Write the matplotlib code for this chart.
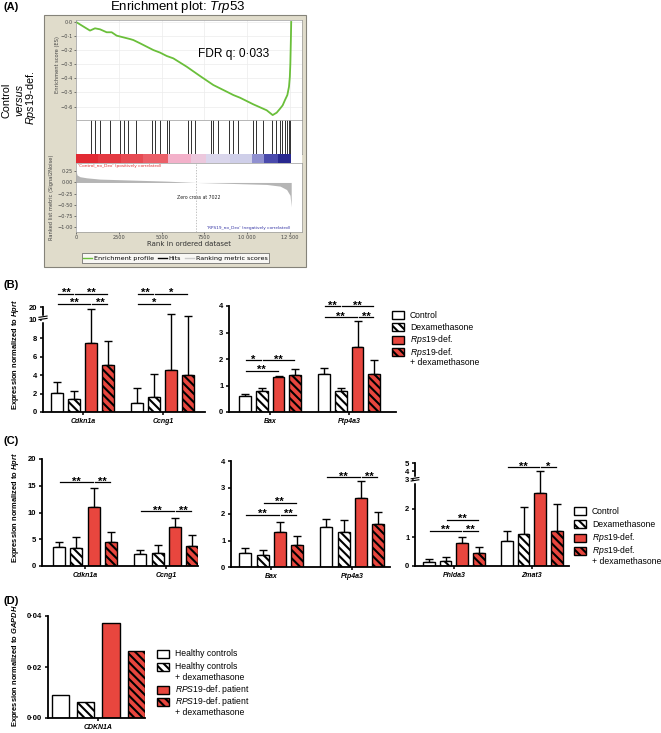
import matplotlib
matplotlib.use('Agg')
import matplotlib.pyplot as plt
import numpy as np
from matplotlib.patches import Rectangle
from matplotlib.lines import Line2D

plt.rcParams['font.family'] = ['Liberation Sans', 'DejaVu Sans']
plt.rcParams['mathtext.fontset'] = 'custom'
plt.rcParams['mathtext.rm'] = 'Liberation Sans'
plt.rcParams['mathtext.it'] = 'Liberation Sans:italic'
plt.rcParams['mathtext.bf'] = 'Liberation Sans:bold'
plt.rcParams['mathtext.bfit'] = 'Liberation Sans:bold:italic'
plt.rcParams['hatch.linewidth'] = 1.5

# ---------------- (A) GSEA enrichment plot ----------------
es_rank = [0, 818, 1110, 1402, 1791, 2083, 2375, 3154, 3349, 3738, 4517, 4906, 5296,
           5685, 6464, 7243, 8022, 8800, 9190, 9579, 10358, 10747, 11137, 11487, 11721,
           11916, 12071, 12208, 12344, 12440, 12490, 12520, 12550, 12570]
es_score = [0.0, -0.061, -0.045, -0.052, -0.073, -0.073, -0.097, -0.121, -0.128, -0.151,
            -0.199, -0.217, -0.241, -0.258, -0.317, -0.383, -0.447, -0.494, -0.518, -0.537,
            -0.584, -0.605, -0.626, -0.660, -0.643, -0.615, -0.591, -0.553, -0.518, -0.459,
            -0.388, -0.293, -0.128, 0.0]
hit_rank = [876, 1081, 1373, 1986, 2599, 2804, 3037, 3505, 4439, 4643, 4906, 5286, 5403,
            6542, 6746, 6951, 7856, 8002, 8265, 8937, 9141, 9433, 10309, 10514, 10923,
            11448, 11682, 11886, 12032, 12178, 12295, 12412, 12520]
metric_rank = [0, 60, 230, 620, 1400, 3350, 5300, 7022, 9190, 11140, 11920, 12300, 12500, 12570]
metric_value = [0.27, 0.17, 0.13, 0.105, 0.076, 0.053, 0.03, 0.0, -0.023, -0.045, -0.083,
                -0.16, -0.29, -0.55]
n_genes = 12570
zero_cross = 7022
es_ticks = [0.0, -0.1, -0.2, -0.3, -0.4, -0.5, -0.6]
es_ticklabels = ['0·0', '−0·1', '−0·2', '−0·3', '−0·4', '−0·5', '−0·6']
metric_ticks = [0.25, 0.0, -0.25, -0.5, -0.75, -1.0]
metric_ticklabels = ['0·25', '0·00', '−0·25', '−0·50', '−0·75', '−1·00']
rank_ticks = [0, 2500, 5000, 7500, 10000, 12500]
rank_ticklabels = ['0', '2500', '5000', '7500', '10 000', '12 500']
# colour blocks of the ranked-list bar (start rank, colour)
heat_start = [0, 1300, 2600, 3900, 5400, 6700, 7600, 9000, 10300, 11000, 11800]
heat_color = ['#e22a33', '#e43a42', '#e74b53', '#eb5f68', '#f3b1ca', '#ecc8dd',
              '#dad6ec', '#cfcfe9', '#9090d0', '#4a4aac', '#28288f']

# ---------------- (B)-(D) qPCR ----------------
conditions = [['Control'], ['Dexamethasone'], [r'$\mathit{Rps19}$-def.'],
              [r'$\mathit{Rps19}$-def.', '+ dexamethasone']]

b1_genes = ['Cdkn1a', 'Ccng1']
b1_mean = [[2.1, 1.45, 7.55, 5.1], [1.0, 1.65, 4.6, 4.0]]
b1_top = [[3.25, 2.25, 18.5, 7.7], [2.6, 4.1, 14.6, 13.1]]
b1_sig = [(0, 0, 1, '**', 1.124), (0, 1, 3, '**', 1.124), (0, 0, 2, '**', 1.029), (0, 2, 3, '**', 1.029),
          (1, 0, 1, '**', 1.124), (1, 1, 3, '*', 1.124), (1, 0, 2, '*', 1.029)]

b2_genes = ['Bax', 'Ptp4a3']
b2_mean = [[0.62, 0.80, 1.33, 1.40], [1.43, 0.80, 2.46, 1.42]]
b2_top = [[0.69, 0.92, 1.37, 1.61], [1.67, 0.89, 3.45, 1.96]]
b2_sig = [(0, 0, 1, '*', 0.49), (0, 1, 3, '**', 0.49), (0, 0, 2, '**', 0.39),
          (1, 0, 1, '**', 1.0), (1, 1, 3, '**', 1.0), (1, 0, 2, '**', 0.896), (1, 2, 3, '**', 0.896)]

c1_genes = ['Cdkn1a', 'Ccng1']
c1_mean = [[3.6, 3.3, 11.1, 4.4], [2.2, 2.5, 7.2, 3.8]]
c1_top = [[4.4, 5.5, 14.5, 6.4], [2.9, 3.9, 9.0, 5.8]]
c1_sig = [(0, 0, 2, '**', 0.785), (0, 2, 3, '**', 0.785), (1, 0, 2, '**', 0.514), (1, 2, 3, '**', 0.514)]

c2_genes = ['Bax', 'Ptp4a3']
c2_mean = [[0.52, 0.47, 1.31, 0.83], [1.50, 1.32, 2.59, 1.61]]
c2_top = [[0.73, 0.64, 1.70, 1.16], [1.82, 1.77, 3.26, 2.09]]
c2_sig = [(0, 1, 3, '**', 0.604), (0, 0, 2, '**', 0.491), (0, 2, 3, '**', 0.491),
          (1, 0, 2, '**', 0.849), (1, 2, 3, '**', 0.849)]

c3_genes = ['Phlda3', 'Zmat3']
c3_mean = [[0.15, 0.17, 0.81, 0.46], [0.86, 1.12, 2.56, 1.22]]
c3_top = [[0.23, 0.30, 1.00, 0.65], [1.22, 2.05, 4.09, 2.16]]
c3_sig = [(0, 1, 3, '**', 0.447), (0, 0, 2, '**', 0.340), (0, 2, 3, '**', 0.340),
          (1, 0, 2, '**', 0.961), (1, 2, 3, '*', 0.961)]

d_gene = 'CDKN1A'
d_labels = [['Healthy controls'], ['Healthy controls', '+ dexamethasone'],
            [r'$\mathit{RPS19}$-def. patient'], [r'$\mathit{RPS19}$-def. patient', '+ dexamethasone']]
d_value = [0.0089, 0.0062, 0.0373, 0.0263]

RED = '#e8463e'
GREEN = '#6abf3a'
BEIGE = '#e0dccb'
HATCH = '\\' * 4
FACES = ['white', 'white', RED, RED]
HATCHES = [None, HATCH, None, HATCH]
GROUP_STEP = 4.7

W, H = 661, 733
fig = plt.figure(figsize=(W / 100, H / 100), dpi=100)


def fx(x):
    return x / W


def fy(y):
    return 1 - y / H


def px_axes(x0, y0, x1, y1):
    return fig.add_axes([fx(x0), fy(y1), (x1 - x0) / W, (y1 - y0) / H])


def broken(lim, k):
    def fwd(y):
        y = np.asarray(y, dtype=float)
        return np.where(y <= lim, y, lim + (y - lim) * k)

    def inv(y):
        y = np.asarray(y, dtype=float)
        return np.where(y <= lim, y, lim + (y - lim) / k)
    return fwd, inv


# ======== panel A ========
fig.add_artist(Rectangle((fx(44), fy(267)), fx(306) - fx(44), fy(15) - fy(267),
                         transform=fig.transFigure, facecolor=BEIGE, edgecolor='#85837a',
                         lw=0.8, zorder=-1))
gsea_font = dict(family='DejaVu Sans')
XMAX = 13200

ax_es = px_axes(76, 20, 302, 120)
ax_es.plot(es_rank, es_score, color=GREEN, lw=1.3)
ax_es.set_xlim(0, XMAX)
ax_es.set_ylim(-0.695, 0.014)
ax_es.set_yticks(es_ticks)
ax_es.set_yticklabels(es_ticklabels, fontsize=3.6, **gsea_font)
ax_es.set_xticks(rank_ticks)
ax_es.tick_params(axis='x', length=0, labelbottom=False)
ax_es.tick_params(axis='y', length=1.5, width=0.5, pad=1, colors='#444444')
ax_es.grid(color='#ececec', lw=0.5)
ax_es.set_axisbelow(True)
fig.text(fx(234), fy(54), 'FDR q: 0·033', fontsize=8.6, ha='center', va='center')

ax_hit = px_axes(76, 120, 302, 154)
ax_hit.vlines(hit_rank, 0, 1, color='#303030', lw=0.7)
ax_hit.set_xlim(0, XMAX)
ax_hit.set_ylim(0, 1)
ax_hit.set_xticks([])
ax_hit.set_yticks([])

ax_cb = px_axes(76, 154, 302, 163)
heat_end = heat_start[1:] + [n_genes]
ax_cb.broken_barh([(s, e - s) for s, e in zip(heat_start, heat_end)], (0, 1),
                  facecolors=heat_color, lw=0)
ax_cb.set_xlim(0, XMAX)
ax_cb.set_ylim(0, 1)
ax_cb.set_xticks([])
ax_cb.set_yticks([])

ax_rk = px_axes(76, 163, 302, 232)
ax_rk.fill_between(metric_rank, metric_value, 0, color='#b5b5b5', lw=0)
ax_rk.axvline(zero_cross, color='#aaaaaa', ls=(0, (2, 2)), lw=0.5)
ax_rk.set_xlim(0, XMAX)
ax_rk.set_ylim(-1.12, 0.44)
ax_rk.set_yticks(metric_ticks)
ax_rk.set_yticklabels(metric_ticklabels, fontsize=3.6, **gsea_font)
ax_rk.set_xticks(rank_ticks)
ax_rk.set_xticklabels(rank_ticklabels, fontsize=3.6, **gsea_font)
ax_rk.tick_params(length=1.5, width=0.5, pad=1, colors='#444444')
ax_rk.text(100, 0.37, "'Control_no_Dex' (positively correlated)", color='#e03030',
           fontsize=3.1, ha='left', va='center', **gsea_font)
ax_rk.text(7155, -0.33, 'Zero cross at 7022', color='#222222', fontsize=3.3,
           ha='center', va='center', **gsea_font)
ax_rk.text(12500, -1.02, "'RPS19_no_Dex' (negatively correlated)", color='#3535a5',
           fontsize=3.1, ha='right', va='center', **gsea_font)

for a in (ax_es, ax_hit, ax_cb, ax_rk):
    for s in a.spines.values():
        s.set_color('#9a9a9a')
        s.set_linewidth(0.5)
for s in ax_cb.spines.values():
    s.set_visible(False)

fig.text(fx(57), fy(65), 'Enrichment score (ES)', rotation=90, ha='center', va='center',
         fontsize=3.7, color='#444444', **gsea_font)
fig.text(fx(52), fy(197), 'Ranked list metric (Signal2Noise)', rotation=90, ha='center',
         va='center', fontsize=3.7, color='#444444', **gsea_font)
fig.text(fx(189), fy(244.5), 'Rank in ordered dataset', ha='center', va='center',
         fontsize=5, color='#333333', **gsea_font)
leg_a = fig.legend([Line2D([], [], color=GREEN, lw=1), Line2D([], [], color='black', lw=1),
                    Line2D([], [], color='#cccccc', lw=1)],
                   ['Enrichment profile', 'Hits', 'Ranking metric scores'],
                   loc='center', bbox_to_anchor=(fx(175.5), fy(258)), ncol=3,
                   prop={'family': 'DejaVu Sans', 'size': 4.6}, frameon=True, fancybox=False,
                   edgecolor='#555555', handlelength=1.3, handletextpad=0.3,
                   columnspacing=0.7, borderpad=0.3)
leg_a.get_frame().set_linewidth(0.6)

fig.text(fx(178), fy(7), r'Enrichment plot: $\mathit{Trp53}$', ha='center', va='center', fontsize=9.5)
fig.text(fx(7), fy(100), 'Control', rotation=90, ha='center', va='center', fontsize=7.8)
fig.text(fx(19), fy(100), 'versus', rotation=90, ha='center', va='center', fontsize=7.8,
         fontstyle='italic')
fig.text(fx(31), fy(98), r'$\mathit{Rps19}$-def.', rotation=90, ha='center', va='center',
         fontsize=7.8)


# ======== bar panels ========
def bar_panel(ax, genes, mean, top, sig, xlim, ylim, yticks, yticklabels):
    for g in range(len(genes)):
        for i in range(4):
            x = g * GROUP_STEP + i
            ax.bar(x, mean[g][i], width=0.7, color=FACES[i], hatch=HATCHES[i],
                   edgecolor='black', linewidth=1.0, zorder=2)
            ax.errorbar(x, mean[g][i], yerr=[[0], [top[g][i] - mean[g][i]]], fmt='none',
                        ecolor='black', elinewidth=1.0, capsize=2.8, capthick=1.0, zorder=1)
    ax.set_xlim(xlim)
    ax.set_ylim(ylim)
    ax.spines[['top', 'right']].set_visible(False)
    ax.spines[['left', 'bottom']].set_linewidth(1.3)
    ax.set_xticks([g * GROUP_STEP + 1.5 for g in range(len(genes))])
    ax.set_xticklabels(genes, fontsize=5, fontweight='bold', fontstyle='italic')
    ax.set_yticks(yticks)
    ax.set_yticklabels(yticklabels, fontsize=5.5, fontweight='bold')
    ax.tick_params(axis='both', width=1.1, length=2.5, pad=1.5)
    ax.set_facecolor('none')
    tr = ax.get_xaxis_transform()
    for g, i, j, label, yf in sig:
        x0 = g * GROUP_STEP + i
        x1 = g * GROUP_STEP + j
        ax.plot([x0 + 0.06, x1 - 0.06], [yf, yf], color='black', lw=0.9, transform=tr,
                clip_on=False)
        ax.annotate(label, xy=((x0 + x1) / 2, yf), xycoords=tr, xytext=(0, -1.7),
                    textcoords='offset points', ha='center', va='baseline', fontsize=8,
                    fontweight='bold')


def break_marks(ax, yf):
    ax.plot([0, 0], [yf - 0.015, yf + 0.015], color='white', lw=2.5, transform=ax.transAxes,
            clip_on=False, zorder=5)
    for d in (-0.014, 0.008):
        ax.plot([-0.025, 0.025], [yf + d, yf + d + 0.012], color='black', lw=0.8,
                transform=ax.transAxes, clip_on=False, zorder=6)


def draw_legend(x, y, rows, row_step, line_step, size=6.2):
    # hand-built legend: swatch beside the first line of each entry
    for i, lines in enumerate(rows):
        fig.add_artist(Rectangle((fx(x), fy(y + 4)), 12 / W, 8 / H, transform=fig.transFigure,
                                 facecolor=FACES[i], hatch=HATCHES[i], edgecolor='black', lw=1.0))
        for k, line in enumerate(lines):
            fig.text(fx(x + 18), fy(y + k * line_step), line, ha='left', va='center', fontsize=size)
        y += row_step + (len(lines) - 1) * line_step


# B left (broken axis above 10)
ax_b1 = px_axes(43, 307, 205, 412)
fwd, inv = broken(10, 0.141)
ax_b1.set_yscale('function', functions=(fwd, inv))
bar_panel(ax_b1, b1_genes, b1_mean, b1_top, b1_sig, (-0.85, 8.68), (0, 20),
          [0, 2, 4, 6, 8, 10, 20], ['0', '2', '4', '6', '8', '10', '20'])
break_marks(ax_b1, float(fwd(11.4)) / float(fwd(20)))

ax_b2 = px_axes(229, 306, 396, 412)
bar_panel(ax_b2, b2_genes, b2_mean, b2_top, b2_sig, (-0.95, 8.99), (0, 4),
          [0, 1, 2, 3, 4], ['0', '1', '2', '3', '4'])

ax_c1 = px_axes(42, 459, 198, 566)
bar_panel(ax_c1, c1_genes, c1_mean, c1_top, c1_sig, (-0.98, 8.03), (0, 20),
          [0, 5, 10, 15, 20], ['0', '5', '10', '15', '20'])

ax_c2 = px_axes(231, 461, 390, 567)
bar_panel(ax_c2, c2_genes, c2_mean, c2_top, c2_sig, (-0.84, 8.4), (0, 4),
          [0, 1, 2, 3, 4], ['0', '1', '2', '3', '4'])

ax_c3 = px_axes(415, 463, 569, 566)
fwd3, inv3 = broken(3, 0.2965)
ax_c3.set_yscale('function', functions=(fwd3, inv3))
bar_panel(ax_c3, c3_genes, c3_mean, c3_top, c3_sig, (-0.84, 8.43), (0, 5),
          [0, 1, 2, 3, 4, 5], ['0', '1', '2', '3', '4', '5'])
break_marks(ax_c3, float(fwd3(3.05)) / float(fwd3(5)))

# D
ax_d = px_axes(48, 616, 145, 718)
for i, v in enumerate(d_value):
    ax_d.bar(i, v, width=0.69, color=FACES[i], hatch=HATCHES[i], edgecolor='black',
             linewidth=1.0)
ax_d.set_xlim(-0.49, 3.34)
ax_d.set_ylim(0, 0.04)
ax_d.spines[['top', 'right']].set_visible(False)
ax_d.spines[['left', 'bottom']].set_linewidth(1.3)
ax_d.set_xticks([1.5])
ax_d.set_xticklabels([d_gene], fontsize=5, fontweight='bold', fontstyle='italic')
ax_d.set_yticks([0, 0.02, 0.04])
ax_d.set_yticklabels(['0·00', '0·02', '0·04'], fontsize=5.5, fontweight='bold')
ax_d.tick_params(axis='both', width=1.1, length=2.5, pad=1.5)

# legends
draw_legend(392, 315, conditions, 12.4, 10.5)
draw_legend(574, 511, conditions, 13.3, 11)
draw_legend(157, 654, d_labels, 12.5, 10.5)

# y labels and panel letters
ylab_kw = dict(rotation=90, ha='center', va='center', fontsize=5.4, fontweight='bold')
fig.text(fx(16), fy(354), r'Expression normalized to $\mathbfit{Hprt}$', **ylab_kw)
fig.text(fx(16), fy(507), r'Expression normalized to $\mathbfit{Hprt}$', **ylab_kw)
fig.text(fx(16), fy(666), r'Expression normalized to $\mathbfit{GAPDH}$', **ylab_kw)

for lab, y in (('(A)', 7), ('(B)', 285), ('(C)', 441), ('(D)', 601)):
    fig.text(fx(3), fy(y), lab, ha='left', va='center', fontsize=8, fontweight='bold')

fig.savefig('out.png', dpi=100)
